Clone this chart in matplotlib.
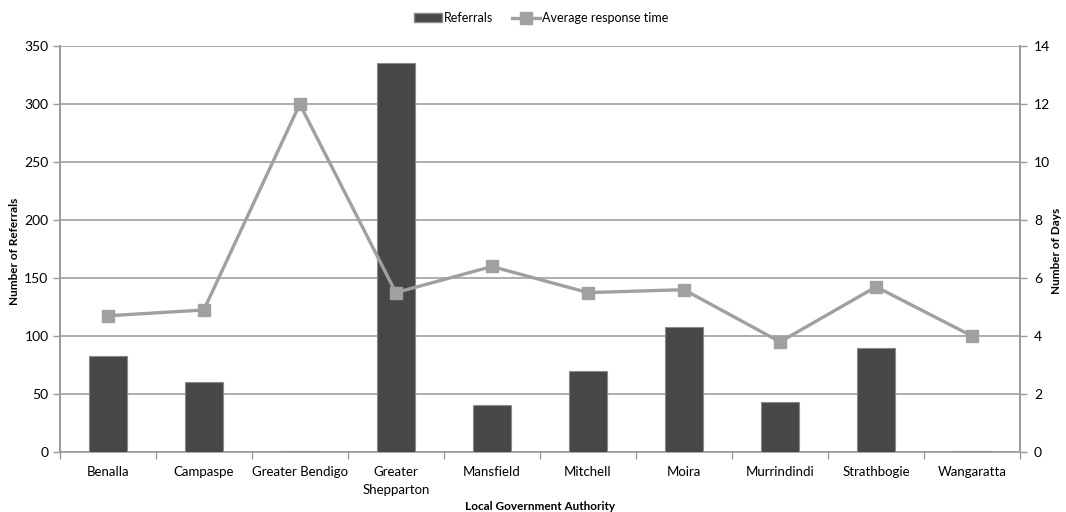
import numpy as np
import matplotlib.pyplot as plt
from matplotlib.lines import Line2D
from matplotlib.patches import Patch

plt.rcParams['font.family'] = ['Lato', 'DejaVu Sans']

# Referrals and average response time by authority
lgas = ['Benalla', 'Campaspe', 'Greater Bendigo', 'Greater\nShepparton', 'Mansfield',
        'Mitchell', 'Moira', 'Murrindindi', 'Strathbogie', 'Wangaratta']
referrals = [83, 60, 1, 335, 41, 70, 108, 43, 90, 1]
response_days = [4.7, 4.9, 12.0, 5.5, 6.4, 5.5, 5.6, 3.8, 5.7, 4.0]

bar_col = '#474747'
line_col = '#a0a0a0'
axis_col = '#9a9a9a'

fig = plt.figure(figsize=(10.66, 5.12), dpi=100)
ax = fig.add_axes([0.056, 0.117, 0.901, 0.793])
ax2 = ax.twinx()

x = np.arange(len(lgas))
ax.bar(x, referrals, width=0.4, color=bar_col, edgecolor='#8a8a8a', linewidth=0.8, zorder=3)
ax2.plot(x, response_days, color=line_col, linewidth=2.4, marker='s', markersize=8,
         markerfacecolor=line_col, markeredgecolor=line_col, zorder=4)

ax.set_xlim(-0.5, len(lgas) - 0.5)
ax.set_ylim(0, 350)
ax.set_yticks(np.arange(0, 351, 50))
ax2.set_ylim(0, 14)
ax2.set_yticks(np.arange(0, 15, 2))

ax.yaxis.grid(True, color=line_col, linewidth=1.2, zorder=0)
ax.set_axisbelow(True)

# category labels centred, tick marks between categories
ax.set_xticks(x)
ax.set_xticklabels(lgas, fontsize=9.5, linespacing=1.6)
ax.set_xticks(np.arange(-0.5, len(lgas)), minor=True)
ax.tick_params(axis='x', which='major', length=0, pad=10)
ax.tick_params(axis='x', which='minor', length=5, color=axis_col, width=1)
ax.tick_params(axis='y', length=5, color=axis_col, width=1, labelsize=10, pad=3)
ax2.tick_params(axis='y', length=5, color=axis_col, width=1, labelsize=10, pad=5)

for a in (ax, ax2):
    a.spines['top'].set_visible(False)
    for s in ('left', 'right', 'bottom'):
        a.spines[s].set_color(axis_col)
        a.spines[s].set_linewidth(1.2)
ax2.spines['bottom'].set_visible(False)

fig.text(0.507, 0.010, 'Local Government Authority', fontsize=8.5, fontweight='bold',
         ha='center', va='center')
fig.text(0.014, 0.51, 'Number of Referrals', fontsize=8.5, fontweight='bold',
         rotation=90, ha='center', va='center')
fig.text(0.991, 0.51, 'Number of Days', fontsize=8.5, fontweight='bold',
         rotation=90, ha='center', va='center')

handles = [Patch(facecolor=bar_col, edgecolor='#8a8a8a'),
           Line2D([0], [0], color=line_col, linewidth=2.4, marker='s', markersize=8)]
fig.legend(handles, ['Referrals', 'Average response time'], loc='center',
           bbox_to_anchor=(0.508, 0.965), ncol=2, frameon=False, fontsize=9,
           handlelength=2.2, handletextpad=0.2, columnspacing=1.5)

fig.savefig('out.png', dpi=100)
